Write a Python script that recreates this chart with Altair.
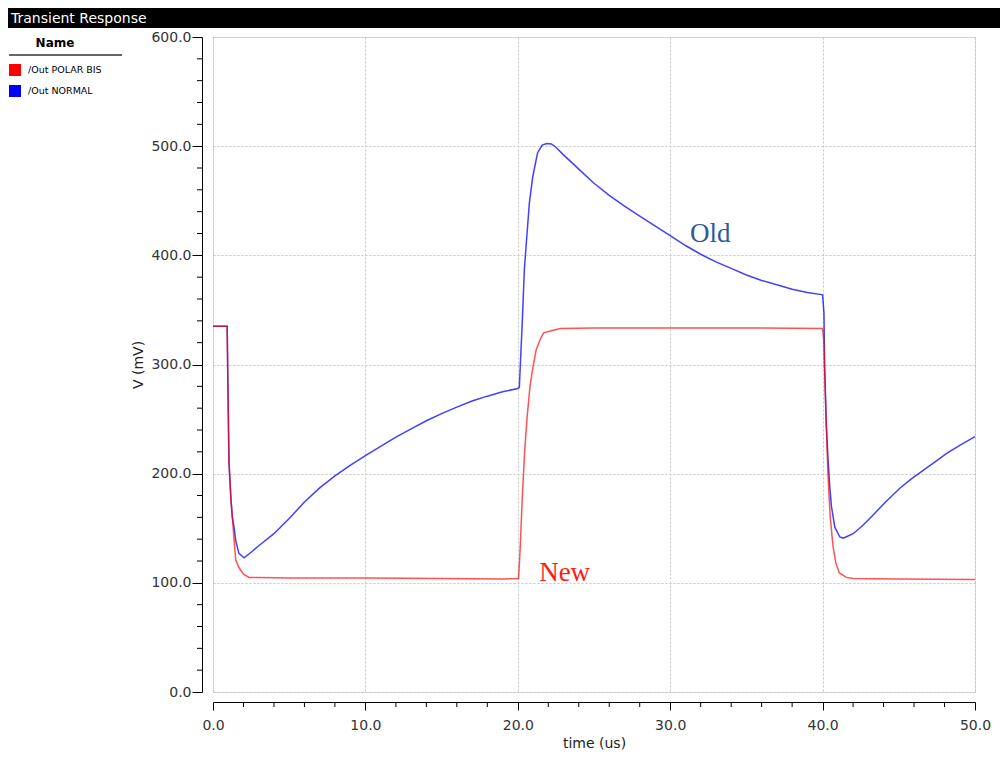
import altair as alt
import pandas as pd

# ---------------- data ----------------
series_names = ["/Out POLAR BIS", "/Out NORMAL"]
series_colors = ["#ff0000", "#0000ff"]

t_red = [0, 0.93, 0.97, 1.05, 1.18, 1.27, 1.38, 1.49, 1.7, 2.0, 2.37, 3, 5, 10, 15, 19,
         20.05, 20.15, 20.3, 20.45, 20.6, 20.8, 21.0, 21.2, 21.5, 21.7, 22.2, 22.8, 25, 30, 35,
         40.0, 40.09, 40.13, 40.24, 40.35, 40.5, 40.69, 40.87, 41.1, 41.56, 42, 45, 50]
v_red = [335, 335, 289, 210, 176, 160, 140, 121, 114, 108, 105, 105, 104.5, 104.5, 104, 103.5,
         104, 130, 180, 220, 250, 280, 298, 313, 324, 329, 331, 333, 333.5, 333.5, 333.5,
         333, 320, 295, 246, 200, 160, 133, 118, 109, 105, 104, 103.5, 103]

t_blue = [0, 0.93, 0.97, 1.05, 1.18, 1.27, 1.38, 1.5, 1.7, 2.04, 2.5, 3.0, 4.0, 5.0, 6.0,
          7.0, 8.0, 9.0, 10.0, 11.0, 12.0, 13.0, 14.0, 15.0, 16.0, 17.0, 18.0, 19.0, 20.0,
          20.1, 20.2, 20.3, 20.43, 20.59, 20.76, 20.98, 21.3, 21.6, 21.9, 22.2, 22.5, 23.0,
          24.0, 25.0, 26.0, 27.0, 28.0, 29.0, 30.0, 31.0, 32.0, 33.0, 34.0, 35.0, 36.0,
          37.0, 38.0, 39.0, 39.93, 40.0, 40.09, 40.13, 40.24, 40.35, 40.47, 40.58, 40.8,
          41.13, 41.35, 41.6, 42.0, 42.6, 43.3, 44.2, 45.07, 45.8, 46.6, 47.4, 48.14, 49.0, 50.0]
v_blue = [335, 335, 289, 210, 176, 160, 151, 138, 127, 123, 128, 134, 145, 159, 174,
          187, 198, 207.5, 216.5, 225, 233.5, 241, 248.5, 255, 261, 266.5, 271, 275, 278,
          279, 310, 341, 387, 417, 448, 472, 494, 501, 502.5, 502, 499, 492,
          479, 466, 455, 445, 436, 427, 418, 409, 401, 394, 388, 382, 377,
          373, 369, 366, 364, 363.6, 347, 300, 246, 215, 188, 170, 151,
          142, 141, 142.5, 145, 152, 162, 175, 186.6, 195, 203, 211, 218.6, 226, 234]

x_major = [0, 10, 20, 30, 40, 50]
x_minor = [2, 4, 6, 8, 12, 14, 16, 18, 22, 24, 26, 28, 32, 34, 36, 38, 42, 44, 46, 48]
y_major = [0, 100, 200, 300, 400, 500, 600]
y_minor = [20, 40, 60, 80, 120, 140, 160, 180, 220, 240, 260, 280, 320, 340, 360, 380,
           420, 440, 460, 480, 520, 540, 560, 580]

note_text = ["Old", "New"]
note_t = [31.3, 21.4]
note_v = [412, 101.7]
note_color = ["#2f5a96", "#ff1a1a"]

window_title = "Transient Response"

# ---------------- tables ----------------
df = pd.concat([
    pd.DataFrame({"t": t_red, "v": v_red, "series": series_names[0]}),
    pd.DataFrame({"t": t_blue, "v": v_blue, "series": series_names[1]}),
], ignore_index=True)
notes = pd.DataFrame({"label": note_text, "t": note_t, "v": note_v, "c": note_color})
xminor_df = pd.DataFrame({"xm": x_minor})
yminor_df = pd.DataFrame({"ym": y_minor})
one = pd.DataFrame({"a": [0]})

W, H = 762, 655
FONT = "DejaVu Sans"

x_scale = alt.Scale(domain=[0, 50], nice=False, zero=False)
y_scale = alt.Scale(domain=[0, 600], nice=False)

x_axis = alt.Axis(values=x_major, format=".1f", title="time (us)", orient="bottom",
                  offset=10, tickSize=8, tickColor="black", domainColor="black",
                  grid=True, gridDash=[2, 2], gridColor="#c4c4c4", gridWidth=1,
                  labelFont=FONT, labelFontSize=14, labelColor="#333333", labelPadding=8,
                  titleFont=FONT, titleFontSize=14, titleFontWeight="normal",
                  titleColor="#222222", titlePadding=4, labelFlush=False)
y_axis = alt.Axis(values=y_major, format=".1f", title="V (mV)", orient="left",
                  offset=11, tickSize=10, tickColor="black", domainColor="black",
                  grid=True, gridDash=[2, 2], gridColor="#c4c4c4", gridWidth=1,
                  labelFont=FONT, labelFontSize=14, labelColor="#333333", labelPadding=1,
                  titleFont=FONT, titleFontSize=14, titleFontWeight="normal",
                  titleColor="#222222", titlePadding=5, labelFlush=False)

color = alt.Color(
    "series:N",
    scale=alt.Scale(domain=series_names, range=series_colors),
    legend=alt.Legend(title="Name", orient="none", legendX=-204, legendY=1,
                      titleAnchor="middle", titleFont=FONT, titleFontSize=12,
                      titleFontWeight="bold", titleColor="black", titlePadding=14,
                      labelFont=FONT, labelFontSize=9.5, labelColor="black", labelOffset=7,
                      symbolType="square", symbolSize=36, symbolStrokeWidth=6,
                      symbolOpacity=1, rowPadding=-15, padding=0),
)

base = alt.Chart(df)
blue_line = base.transform_filter(alt.datum.series == series_names[1]).mark_line(
    strokeWidth=1.5, opacity=0.75).encode(
    x=alt.X("t:Q", scale=x_scale, axis=x_axis),
    y=alt.Y("v:Q", scale=y_scale, axis=y_axis),
    color=color, order="t:Q")
red_line = base.transform_filter(alt.datum.series == series_names[0]).mark_line(
    strokeWidth=1.5, opacity=0.68).encode(
    x=alt.X("t:Q", scale=x_scale, axis=x_axis),
    y=alt.Y("v:Q", scale=y_scale, axis=y_axis),
    color=color, order="t:Q")

# minor tick marks: positioned through the shared scales, drawn just outside the plot
x_minor_ticks = alt.Chart(xminor_df).mark_rule(stroke="#000000", strokeWidth=1).encode(
    x=alt.X("xm:Q", scale=x_scale, axis=x_axis),
    y=alt.YValue(H + 10), y2=alt.Y2Value(H + 15))
y_minor_ticks = alt.Chart(yminor_df).mark_rule(stroke="#000000", strokeWidth=1).encode(
    y=alt.Y("ym:Q", scale=y_scale, axis=y_axis),
    x=alt.XValue(-16), x2=alt.X2Value(-11))

note_layer = alt.Chart(notes).mark_text(font="Liberation Serif", fontSize=27, align="left",
                                        baseline="alphabetic").encode(
    x=alt.X("t:Q", scale=x_scale, axis=x_axis), y=alt.Y("v:Q", scale=y_scale, axis=y_axis),
    text="label:N", color=alt.Color("c:N", scale=None))

bar = alt.Chart(one).mark_rect(color="black").encode(
    x=alt.value(-205), x2=alt.value(W + 25), y=alt.value(-29), y2=alt.value(-9))
bar_text = alt.Chart(one).mark_text(text=window_title, color="white", font=FONT, fontSize=14,
                                    align="left", baseline="alphabetic").encode(
    x=alt.value(-202), y=alt.value(-14))
underline = alt.Chart(one).mark_rule(color="#333333", strokeWidth=1.5).encode(
    x=alt.value(-204), x2=alt.value(-91), y=alt.value(18))

chart = alt.layer(blue_line, red_line, note_layer, x_minor_ticks, y_minor_ticks,
                  bar, bar_text, underline).properties(
    width=W, height=H,
    autosize=alt.AutoSizeParams(type="none"),
    padding={"left": 205, "top": 29, "right": 25, "bottom": 60},
).configure_view(strokeWidth=0).configure(background="white")

chart.save("out.html", embed_options={"renderer": "svg", "actions": False})
